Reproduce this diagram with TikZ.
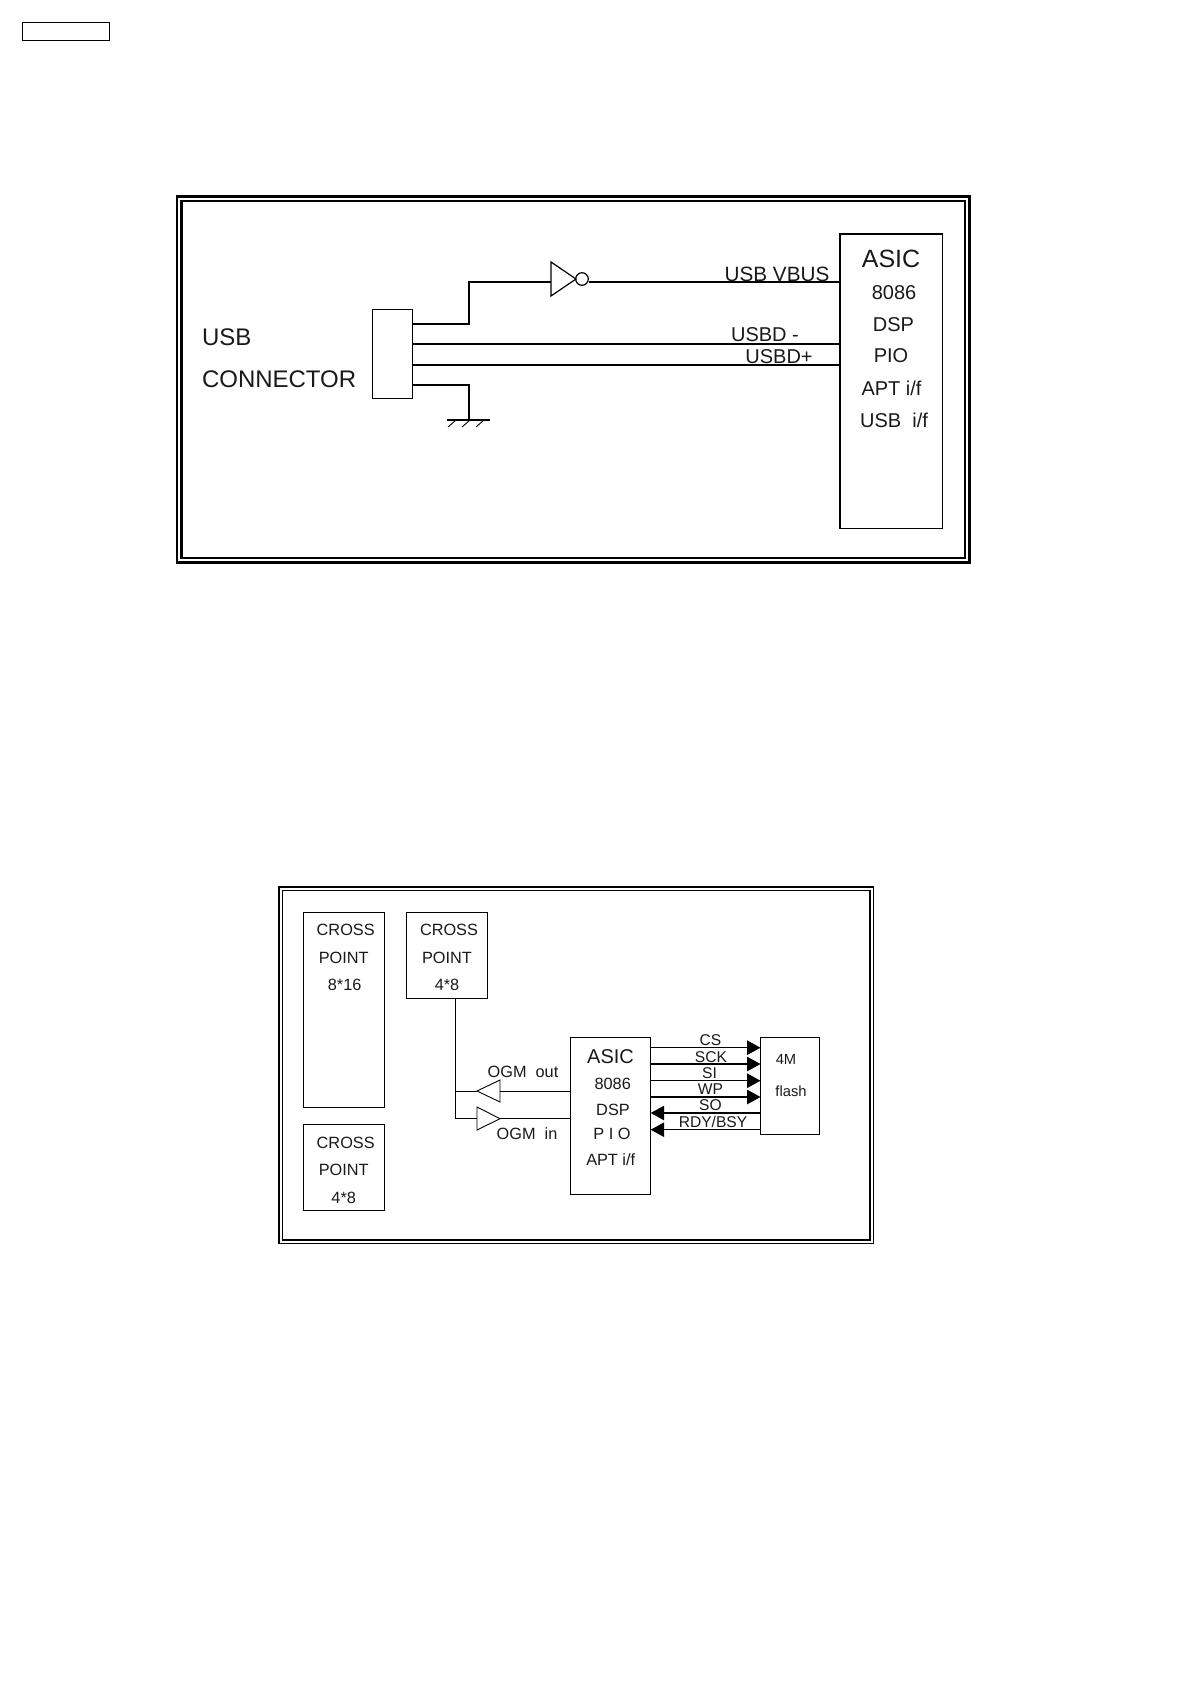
\documentclass[tikz,border=0pt]{standalone}
\usepackage{fontspec}
\setmainfont{Liberation Sans}
\usetikzlibrary{arrows.meta}
\newcommand{\pxbox}[6][plainbox]{\node[#1,minimum width={(#5-#3)*1pt},minimum height={(#6-#4)*1pt}] (#2) at ({(#3+#5)/2},{(#4+#6)/2}) {};}
\newcommand{\fsz}[1]{\fontsize{#1}{#1}\selectfont}
\tikzset{
  plainbox/.style={draw=black,line width=1.2pt,inner sep=0pt,outer sep=0pt,fill=none},
  lightbox/.style={plainbox,line width=1pt},
  thickbox/.style={plainbox,line width=1.7pt},
  heavybox/.style={plainbox,line width=2.3pt},
  wire/.style={draw=black,line width=1.2pt,line join=miter},
  thinwire/.style={draw=black,line width=0.9pt},
  busarrow/.style={wire,-{Triangle[length=13.5pt,width=14.5pt]}},
  txt/.style={anchor=base,inner sep=0pt,outer sep=0pt,text=black!90},
  t24/.style={txt,font=\fsz{24}},
  t25/.style={txt,font=\fsz{25}},
  t20/.style={txt,font=\fsz{20}},
  t21/.style={txt,font=\fsz{21}},
  t16/.style={txt,font=\fsz{16.3}},
  t15/.style={txt,font=\fsz{15.6}},
  t14/.style={txt,font=\fsz{14.7}},
}
\begin{document}
\begin{tikzpicture}[x=1pt,y=-1pt]
\useasboundingbox (0,0) rectangle (1190,1684);
% header tab
\pxbox[thickbox]{tab}{22.5}{22.5}{109.5}{40.5}
% upper frame
\pxbox[heavybox]{frameAo}{177}{196.5}{969.5}{562.5}
\pxbox[heavybox]{frameAi}{181.5}{201}{965}{558}
\pxbox{conn}{372.5}{309.5}{412.5}{398.5}
\pxbox{asicA}{840}{234}{942.5}{528.5}
\node[t24,anchor=base west] (lblusb) at (202,345) {USB};
\node[t24,anchor=base west] (lblconn) at (202,387) {CONNECTOR};
\node[t25] (aA) at (891,267) {ASIC};
\node[t20] (aB) at (894,299) {8086};
\node[t20] (aC) at (893.5,331.7) {DSP};
\node[t20] (aD) at (891,362) {PIO};
\node[t20] (aE) at (891.5,395.7) {APT i/f};
\node[t20] (aF) at (894,427) {USB\ \ i/f};
\node[t21,font=\fsz{20.7}] (lvbus) at (777,281) {USB VBUS};
\node[t20] (ldm) at (765,341.7) {USBD -};
\node[t20] (ldp) at (779,363) {USBD+};
% inverter
\coordinate (invin) at (551,282);
\coordinate (invout) at (588.5,282);
\draw[wire] (551,262) -- (551,296) -- (576,279) -- cycle;
\draw[wire] (582,279) circle (6.3);
\draw[wire] (conn.east |- 0,324) -- (469,324) -- (469,282) -- (invin);
\draw[wire] (invout) -- (asicA.west |- invout);
\draw[wire] (conn.east |- 0,344) -- (asicA.west |- 0,344);
\draw[wire] (conn.east |- 0,365) -- (asicA.west |- 0,365);
% ground
\coordinate (gnd) at (469,420);
\draw[wire] (conn.east |- 0,385) -- (gnd |- 0,385) -- (gnd);
\draw[wire] (447,420) -- (490,420);
\draw[thinwire] (456,420) -- (448,427) (470,420) -- (462,427) (484,420) -- (476,427);
% lower frame
\pxbox[thickbox]{frameBo}{279}{887}{873.5}{1243.5}
\pxbox{frameBi}{282.5}{890.5}{870}{1240}
\pxbox[lightbox]{cpA}{303}{912}{384}{1107}
\pxbox[lightbox]{cpB}{406.7}{912}{487}{998}
\pxbox[lightbox]{cpC}{303}{1124.5}{384}{1210.5}
\pxbox[lightbox]{asicB}{570}{1037}{650.7}{1194}
\pxbox[lightbox]{flash}{760.5}{1037}{819.5}{1134.5}
\node[t16] (cA1) at (345.7,935.7) {CROSS};
\node[t16] (cA2) at (343.7,963) {POINT};
\node[t16] (cA3) at (344.7,990.7) {8*16};
\node[t16] (cB1) at (449,935.7) {CROSS};
\node[t16] (cB2) at (447,963) {POINT};
\node[t16] (cB3) at (447,990.7) {4*8};
\node[t16] (cC1) at (345.7,1148) {CROSS};
\node[t16] (cC2) at (343.7,1175.5) {POINT};
\node[t16] (cC3) at (343.7,1203) {4*8};
\node[t20] (bA) at (610.5,1063.5) {ASIC};
\node[t16] (bB) at (612.7,1089) {8086};
\node[t16] (bC) at (613,1115) {DSP};
\node[t16] (bD) at (612,1139) {P I O};
\node[t16] (bE) at (610.7,1165) {APT i/f};
\node[t15] (sA) at (710.5,1045.5) {CS};
\node[t15] (sB) at (711,1062.5) {SCK};
\node[t15] (sC) at (709.5,1078.5) {SI};
\node[t15] (sD) at (710.5,1094.5) {WP};
\node[t15] (sE) at (710.5,1110.5) {SO};
\node[t15] (sF) at (713,1127.5) {RDY/BSY};
\node[t14] (fA) at (786,1064) {4M};
\node[t14] (fB) at (791,1096) {flash};
\node[t16] (ogmo) at (523,1077) {OGM\ \ out};
\node[t16] (ogmi) at (527,1139) {OGM\ \ in};
% flash bus
\draw[busarrow] (asicB.east |- 0,1047.7) -- (flash.west |- 0,1047.7);
\draw[busarrow] (asicB.east |- 0,1064) -- (flash.west |- 0,1064);
\draw[busarrow] (asicB.east |- 0,1080.7) -- (flash.west |- 0,1080.7);
\draw[busarrow] (asicB.east |- 0,1097) -- (flash.west |- 0,1097);
\draw[busarrow] (flash.west |- 0,1113) -- (asicB.east |- 0,1113);
\draw[busarrow] (flash.west |- 0,1129.7) -- (asicB.east |- 0,1129.7);
% OGM buffers
\coordinate (outtip) at (477,1091);
\coordinate (outbase) at (500,1091);
\coordinate (intip) at (500,1118.7);
\coordinate (inbase) at (477,1118.7);
\draw[thinwire] (500,1080) -- (500,1102) -- (outtip) -- cycle;
\draw[thinwire] (477,1107) -- (477,1130) -- (intip) -- cycle;
\draw[thinwire] (outbase) -- (asicB.west |- outbase);
\draw[thinwire] (intip) -- (asicB.west |- intip);
\draw[thinwire] (cpB.south -| 455.3,0) -- (455.3,1118.7) -- (inbase);
\draw[thinwire] (455.3,1091) -- (outtip);
\end{tikzpicture}
\end{document}
